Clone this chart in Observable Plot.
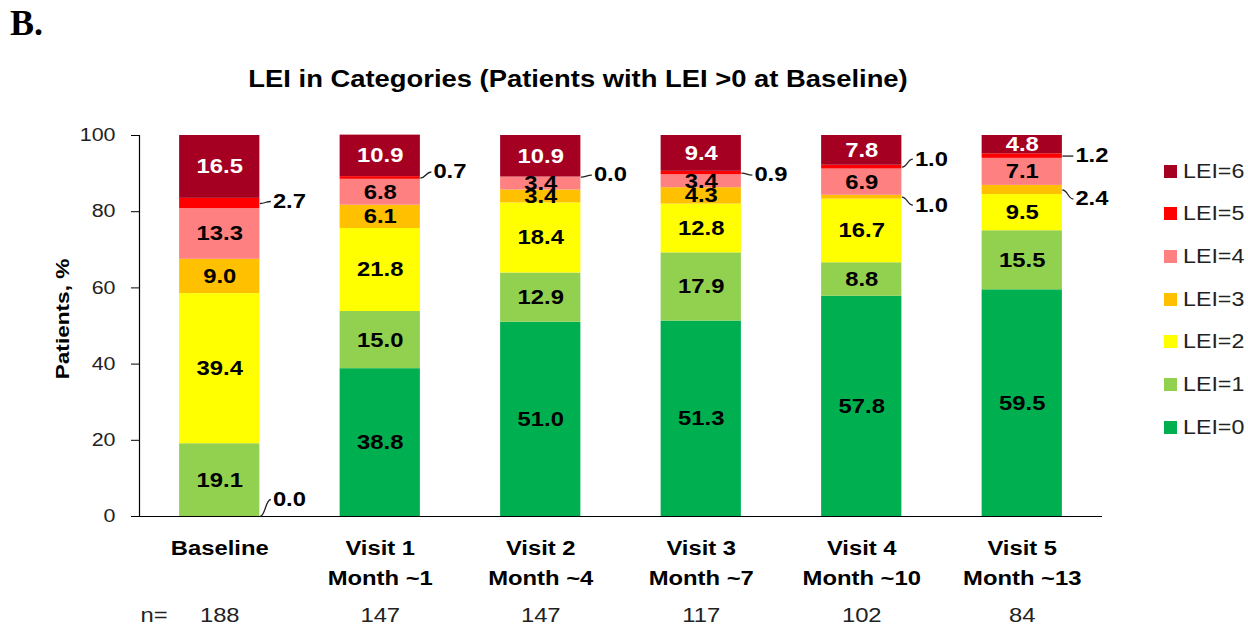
<!DOCTYPE html>
<html>
<head>
<meta charset="utf-8">
<script src="https://cdn.jsdelivr.net/npm/d3@7"></script>
<script src="https://cdn.jsdelivr.net/npm/@observablehq/plot@0.6"></script>
<style>
  html, body { margin: 0; padding: 0; background: #fff; }
  #wrap { position: relative; width: 1248px; height: 629px; font-family: "Liberation Sans", Arial, sans-serif; overflow: hidden; }
  #wrap svg { position: absolute; left: 0; top: 0; }
  #panel { position: absolute; left: 10px; top: 2px; font-family: "Liberation Serif", "Times New Roman", serif; font-weight: bold; font-size: 36px; color: #000; }
  #title { position: absolute; left: 0; width: 1157px; top: 66px; text-align: center; font-weight: bold; font-size: 23px; color: #000; }
  #title span { display: inline-block; transform: scaleX(1.19); transform-origin: center; }
  #legend { position: absolute; left: 1164px; top: 0; }
  .li { position: absolute; left: 0; display: flex; align-items: center; white-space: nowrap; font-size: 19.5px; color: #222; height: 24px; }
  .li span.t { display: inline-block; transform: scaleX(1.19); transform-origin: left center; }
  .sw { width: 13px; height: 13px; margin-right: 6px; }
</style>
</head>
<body>
<div id="wrap">
  <div id="panel">B.</div>
  <div id="title"><span>LEI in Categories (Patients with LEI &gt;0 at Baseline)</span></div>
  <div id="legend"></div>
</div>
<script>
// ---- data ----
const categories = ["Baseline", "Visit 1\nMonth ~1", "Visit 2\nMonth ~4", "Visit 3\nMonth ~7", "Visit 4\nMonth ~10", "Visit 5\nMonth ~13"];
const nCounts = [188, 147, 147, 117, 102, 84];
const levels = ["LEI=0", "LEI=1", "LEI=2", "LEI=3", "LEI=4", "LEI=5", "LEI=6"];
const levelColors = ["#00B050", "#92D050", "#FFFF00", "#FFC000", "#FF8080", "#FF0000", "#A50021"];
const lei0 = [0.0, 38.8, 51.0, 51.3, 57.8, 59.5];
const lei1 = [19.1, 15.0, 12.9, 17.9, 8.8, 15.5];
const lei2 = [39.4, 21.8, 18.4, 12.8, 16.7, 9.5];
const lei3 = [9.0, 6.1, 3.4, 4.3, 1.0, 2.4];
const lei4 = [13.3, 6.8, 3.4, 3.4, 6.9, 7.1];
const lei5 = [2.7, 0.7, 0.0, 0.9, 1.0, 1.2];
const lei6 = [16.5, 10.9, 10.9, 9.4, 7.8, 4.8];
const yTicks = [0, 20, 40, 60, 80, 100];

// ---- layout (pixels) ----
const W = 1248, H = 629;
const mL = 139, mR = 146, mT = 135, mB = 113;
const pxX = (W - mL - mR) / categories.length;
const pxY = (H - mT - mB) / 100;
const half = 0.25; // half bar width in band units
const textStretch = 1.19; // reference text is horizontally wide
// callout vertical offsets of labels (px, negative = up), keyed "cat|level"
const calloutDy = {"0|LEI=0": -17, "0|LEI=5": -2, "1|LEI=5": -6, "2|LEI=5": -2, "3|LEI=5": 2,
                   "4|LEI=5": -8, "4|LEI=3": 8, "5|LEI=5": 0, "5|LEI=3": 9};

// ---- build stacked segments ----
const series = [lei0, lei1, lei2, lei3, lei4, lei5, lei6];
const segs = [];
categories.forEach((c, i) => {
  let acc = 0;
  series.forEach((s, k) => {
    const v = s[i];
    segs.push({i, lei: levels[k], k, value: v, y1: acc, y2: acc + v, mid: acc + v / 2});
    acc += v;
  });
});
const inside = segs.filter(d => d.value >= 3);
const outside = segs.filter(d => d.value < 3).map(d => {
  const dy = calloutDy[d.i + "|" + d.lei] ?? 0;
  return {...d, xa: d.i + half, xb: d.i + half + 11 / pxX, yb: d.mid - dy / pxY};
});

const font = "'Liberation Sans', Arial, sans-serif";
const chart = Plot.plot({
  width: W, height: H,
  marginLeft: mL, marginRight: mR, marginTop: mT, marginBottom: mB,
  x: {type: "linear", domain: [-0.5, categories.length - 0.5], axis: null},
  y: {domain: [0, 100], axis: null},
  color: {domain: levels, range: levelColors},
  style: {fontFamily: font, overflow: "visible", background: "transparent"},
  marks: [
    Plot.rect(segs, {x1: d => d.i - half, x2: d => d.i + half, y1: "y1", y2: "y2", fill: "lei"}),
    Plot.ruleY([0], {stroke: "#000", strokeWidth: 1.2}),
    Plot.ruleX([-0.5], {stroke: "#000", strokeWidth: 1.2}),
    Plot.axisY({ticks: yTicks, tickSize: 8, tickPadding: 16, fontSize: 18, label: null, stroke: "#000", color: "#222"}),
    Plot.text(["Patients, %"], {frameAnchor: "left", textAnchor: "middle", rotate: -90, dx: -77, dy: -7,
      fontSize: 19, fontWeight: "bold", fill: "#000"}),
    Plot.text(inside, {x: "i", y: "mid", text: d => d.value.toFixed(1), fontSize: 20, fontWeight: "bold",
      fill: d => d.lei === "LEI=6" ? "#fff" : "#000"}),
    Plot.link(outside, {x1: "xa", y1: "mid", x2: "xb", y2: "yb", curve: "bump-x", stroke: "#222", strokeWidth: 1.3}),
    Plot.text(outside, {x: "xb", y: "yb", text: d => d.value.toFixed(1), dx: 2, textAnchor: "start",
      fontSize: 20, fontWeight: "bold", fill: "#000"}),
    Plot.text(categories, {x: (d, i) => i, y: 0, dy: 17, lineAnchor: "top", lineHeight: 1.5,
      fontSize: 20, fontWeight: "bold", fill: "#000"}),
    Plot.text(nCounts, {x: (d, i) => i, y: 0, dy: 99, fontSize: 20, fill: "#222"}),
    Plot.text(["n="], {x: -0.5, y: 0, dy: 99, dx: 1, textAnchor: "start", fontSize: 20, fill: "#222"})
  ]
});
// widen every text horizontally about its anchor (like the reference)
chart.querySelectorAll("text").forEach(t => {
  const x0 = +(t.getAttribute("x") || 0);
  const tr = t.getAttribute("transform") || "";
  t.setAttribute("transform", `${tr} translate(${x0},0) scale(${textStretch},1) translate(${-x0},0)`);
});
document.getElementById("wrap").prepend(chart);

// ---- legend ----
const leg = document.getElementById("legend");
levels.slice().reverse().forEach((l, j) => {
  const k = levels.indexOf(l);
  const el = document.createElement("div");
  el.className = "li";
  el.style.top = (171 - 12 + j * 42.7) + "px";
  el.innerHTML = `<span class="sw" style="background:${levelColors[k]}"></span><span class="t">${l}</span>`;
  leg.appendChild(el);
});
</script>
</body>
</html>
